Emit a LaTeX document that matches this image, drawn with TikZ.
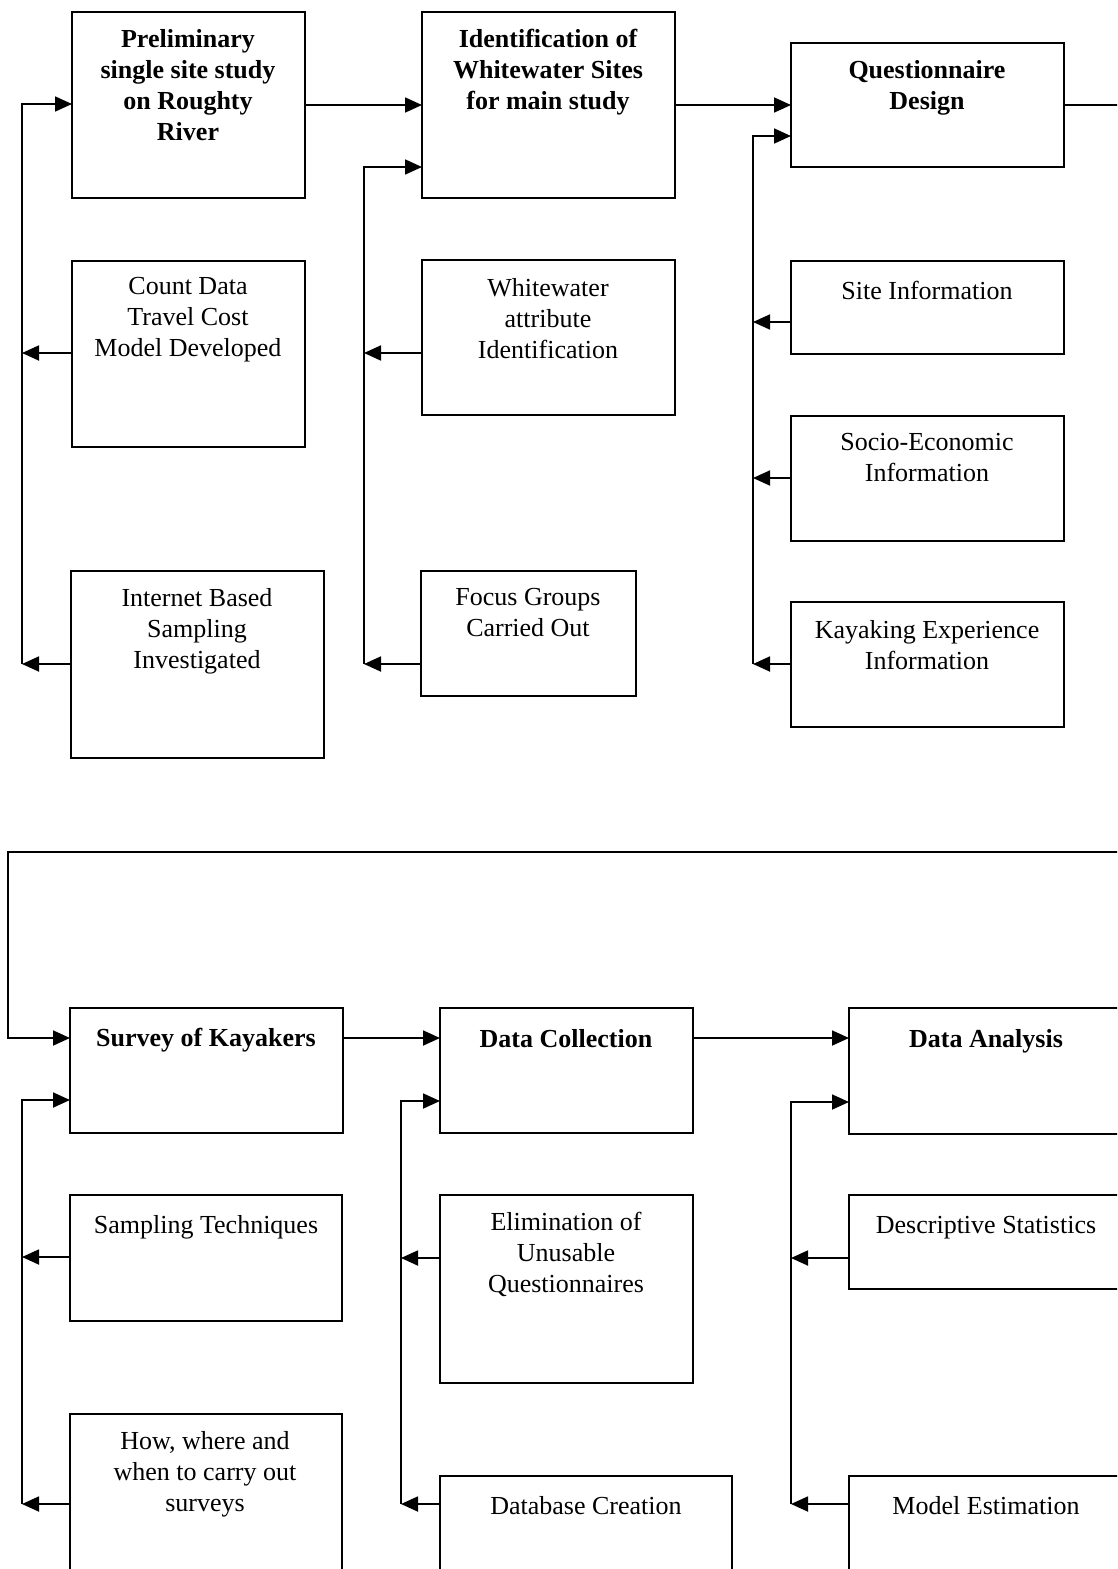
\documentclass[tikz,border=0pt]{standalone}
\usepackage{fontspec}
\setmainfont{Liberation Serif}
\usetikzlibrary{arrows.meta}
\begin{document}
\begin{tikzpicture}[x=1pt,y=-1pt,
  box/.style={draw, line width=1.8pt, anchor=north west, inner sep=0pt, outer sep=0pt},
  txt/.style={anchor=north, inner sep=0pt, align=center, font=\fontsize{26}{31}\selectfont, execute at begin node=\strut, yshift=-4pt},
  btxt/.style={txt, font=\fontsize{26}{31}\selectfont\bfseries},
  ln/.style={line width=1.8pt},
  arr/.style={line width=1.8pt, -{Triangle[length=17pt,width=15pt]}}
]
\useasboundingbox (0,0) rectangle (1117,1569);
\clip (0,0) rectangle (1117,1569);
% ---- top section boxes
\node[box, minimum width=233, minimum height=186] (A) at (72,12) {};
\node[box, minimum width=253, minimum height=186] (B) at (422,12) {};
\node[box, minimum width=273, minimum height=124] (C) at (791,43) {};
\node[box, minimum width=233, minimum height=186] (cnt) at (72,261) {};
\node[box, minimum width=253, minimum height=187] (int) at (71,571) {};
\node[box, minimum width=253, minimum height=155] (ww) at (422,260) {};
\node[box, minimum width=215, minimum height=125] (foc) at (421,571) {};
\node[box, minimum width=273, minimum height=93] (site) at (791,261) {};
\node[box, minimum width=273, minimum height=125] (soc) at (791,416) {};
\node[box, minimum width=273, minimum height=125] (kay) at (791,602) {};
% ---- bottom section boxes
\node[box, minimum width=273, minimum height=125] (sv) at (70,1008) {};
\node[box, minimum width=253, minimum height=125] (dc) at (440,1008) {};
\node[box, minimum width=274, minimum height=126] (da) at (849,1008) {};
\node[box, minimum width=272, minimum height=126] (samp) at (70,1195) {};
\node[box, minimum width=272, minimum height=187] (how) at (70,1414) {};
\node[box, minimum width=253, minimum height=188] (elim) at (440,1195) {};
\node[box, minimum width=292, minimum height=125] (db) at (440,1476) {};
\node[box, minimum width=274, minimum height=94] (desc) at (849,1195) {};
\node[box, minimum width=274, minimum height=125] (mod) at (849,1476) {};
% ---- texts
\node[btxt] (tA) at (188,25) {Preliminary\\single site study\\on Roughty\\River};
\node[btxt] (tB) at (548,25) {Identification of\\Whitewater Sites\\for main study};
\node[btxt] (tC) at (927,56) {Questionnaire\\Design};
\node[txt] (tcnt) at (188,273) {Count Data\\Travel Cost\\Model Developed};
\node[txt] (tint) at (197,584) {Internet Based\\Sampling\\Investigated};
\node[txt] (tww) at (548,274) {Whitewater\\attribute\\Identification};
\node[txt] (tfoc) at (528,584) {Focus Groups\\Carried Out};
\node[txt] (tsite) at (927,274) {Site Information};
\node[txt] (tsoc) at (927,429) {Socio-Economic\\Information};
\node[txt] (tkay) at (927,616) {Kayaking Experience\\Information};
\node[btxt] (tsv) at (206,1021) {Survey of Kayakers};
\node[btxt] (tdc) at (566,1022) {Data Collection};
\node[btxt] (tda) at (986,1022) {Data Analysis};
\node[txt] (tsamp) at (206,1208) {Sampling Techniques};
\node[txt] (thow) at (205,1427) {How, where and\\when to carry out\\surveys};
\node[txt] (telim) at (566,1208) {Elimination of\\Unusable\\Questionnaires};
\node[txt] (tdb) at (586,1489) {Database Creation};
\node[txt] (tdesc) at (986,1208) {Descriptive Statistics};
\node[txt] (tmod) at (986,1489) {Model Estimation};
% ---- main flow
\draw[arr] (A.east) -- (B.west);
\draw[arr] (B.east) -- (C.west);
\coordinate (cOut) at (1125,105);
\draw[ln] (C.east) -- (cOut);
\coordinate (rIn) at (1125,852);
\coordinate (l1) at (8,852);
\coordinate (l2) at (8,1038);
\draw[arr] (rIn) -- (l1) -- (l2) -- (sv.west |- l2);
\draw[arr] (sv.east |- l2) -- (dc.west |- l2);
\draw[arr] (dc.east |- l2) -- (da.west |- l2);
% ---- spine 1
\coordinate (s1t) at (22,104);
\coordinate (s1b) at (22,664);
\draw[arr] (s1b) -- (s1t) -- (A.west |- s1t);
\draw[arr] (cnt.west |- 0,353) -- (s1t |- 0,353);
\draw[arr] (int.west |- s1b) -- (s1b);
% ---- spine 2
\coordinate (s2t) at (364,167);
\coordinate (s2b) at (364,664);
\draw[arr] (s2b) -- (s2t) -- (B.west |- s2t);
\draw[arr] (ww.west |- 0,353) -- (s2t |- 0,353);
\draw[arr] (foc.west |- s2b) -- (s2b);
% ---- spine 3
\coordinate (s3t) at (753,136);
\coordinate (s3b) at (753,664);
\draw[arr] (s3b) -- (s3t) -- (C.west |- s3t);
\draw[arr] (site.west |- 0,322) -- (s3t |- 0,322);
\draw[arr] (soc.west |- 0,478) -- (s3t |- 0,478);
\draw[arr] (kay.west |- s3b) -- (s3b);
% ---- spine 4
\coordinate (s4t) at (22,1100);
\coordinate (s4b) at (22,1504);
\draw[arr] (s4b) -- (s4t) -- (sv.west |- s4t);
\draw[arr] (samp.west |- 0,1257) -- (s4t |- 0,1257);
\draw[arr] (how.west |- s4b) -- (s4b);
% ---- spine 5
\coordinate (s5t) at (401,1101);
\coordinate (s5b) at (401,1504);
\draw[arr] (s5b) -- (s5t) -- (dc.west |- s5t);
\draw[arr] (elim.west |- 0,1258) -- (s5t |- 0,1258);
\draw[arr] (db.west |- s5b) -- (s5b);
% ---- spine 6
\coordinate (s6t) at (791,1102);
\coordinate (s6b) at (791,1504);
\draw[arr] (s6b) -- (s6t) -- (da.west |- s6t);
\draw[arr] (desc.west |- 0,1258) -- (s6t |- 0,1258);
\draw[arr] (mod.west |- s6b) -- (s6b);
\end{tikzpicture}
\end{document}
